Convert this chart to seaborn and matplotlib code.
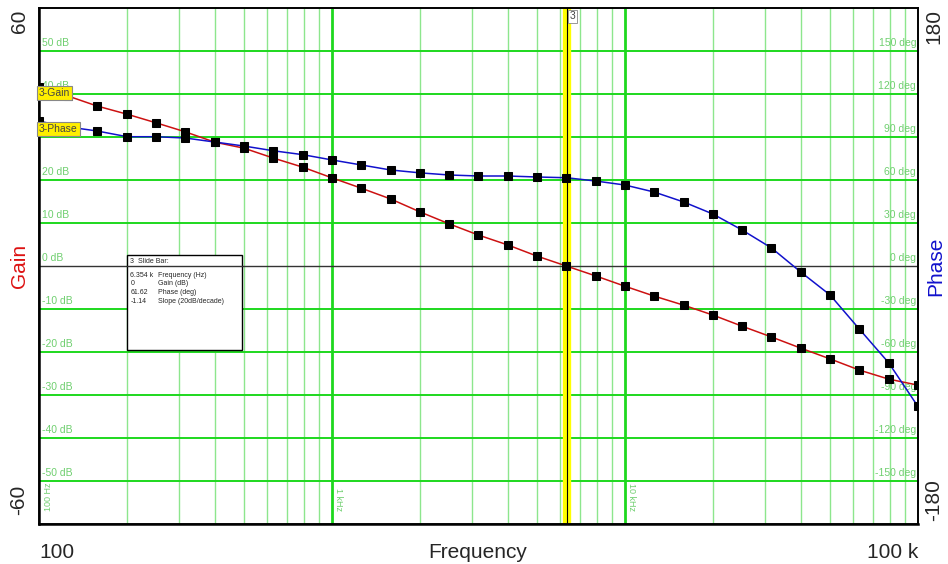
import numpy as np
import pandas as pd
import matplotlib.pyplot as plt
from matplotlib.patches import Rectangle
import seaborn as sns

# frequency points (Hz), 10 per decade
freq = [100, 126, 158, 200, 251, 316, 398, 501, 631, 794,
        1000, 1259, 1585, 1995, 2512, 3162, 3981, 5012, 6310, 7943,
        10000, 12589, 15849, 19953, 25119, 31623, 39811, 50119, 63096, 79433, 100000]
gain_db = [41.6, 39.5, 37.2, 35.3, 33.3, 31.2, 28.8, 27.4, 25.1, 23.0,
           20.5, 18.1, 15.6, 12.6, 9.8, 7.2, 4.9, 2.3, 0.0, -2.3,
           -4.7, -7.0, -9.1, -11.4, -14.0, -16.5, -19.1, -21.6, -24.2, -26.3, -27.7]
phase_deg = [101, 97, 94.2, 90.2, 90.2, 89.3, 86.5, 83.7, 80.4, 77.7,
             74.0, 70.5, 67.0, 65.0, 63.5, 62.8, 62.8, 62.1, 61.6, 59.3,
             56.5, 51.6, 44.7, 36.3, 25.1, 12.6, -4.2, -20.2, -44.0, -67.5, -98.0]

gain_grid = [-50, -40, -30, -20, -10, 10, 20, 30, 40, 50]
# left-side dB labels that are not hidden behind the series tags
gain_labels = [-50, -40, -30, -20, -10, 0, 10, 20, 40, 50]
phase_labels = [-150, -120, -90, -60, -30, 0, 30, 60, 90, 120, 150]
minor_freqs = [200, 300, 400, 500, 600, 700, 800, 900,
               2000, 3000, 4000, 5000, 6000, 7000, 8000, 9000,
               20000, 30000, 40000, 50000, 60000, 70000, 80000, 90000]
decade_freqs = [1000, 10000]
decade_labels = ['1 kHz', '10 kHz']

slide_freq = 6354
slide_rows = [('6.354 k', 'Frequency (Hz)'), ('0', 'Gain (dB)'),
              ('61.62', 'Phase (deg)'), ('-1.14', 'Slope (20dB/decade)')]

df = pd.DataFrame({'freq': freq, 'gain': gain_db, 'phase': phase_deg})

sns.set_style('white')
plt.rcParams['font.family'] = ['Liberation Sans', 'DejaVu Sans']

fig = plt.figure(figsize=(9.48, 5.64), dpi=100)
ax = fig.add_axes([0.0411, 0.0709, 0.9272, 0.9149])
ax.set_xscale('log')
ax.set_xlim(100, 100000)
ax.set_ylim(-60, 60)

green = '#1ed81e'
light_green = '#8de68d'
label_green = '#6fcf6f'

# grid
for f in minor_freqs:
    ax.axvline(f, color=light_green, lw=1.0, zorder=1)
for f in decade_freqs:
    ax.axvline(f, color=green, lw=2.0, zorder=1)
for g in gain_grid:
    ax.axhline(g, color=green, lw=1.4, zorder=1)
ax.axhline(0, color='#333333', lw=1.0, zorder=1.5)

# grid labels
for g in gain_labels:
    ax.text(0.004, g + 0.6, f'{g} dB', transform=ax.get_yaxis_transform(),
            color=label_green, fontsize=7.5, ha='left', va='bottom', zorder=1.6)
for p in phase_labels:
    ax.text(0.998, p / 3 + 0.6, f'{p} deg', transform=ax.get_yaxis_transform(),
            color=label_green, fontsize=7.5, ha='right', va='bottom', zorder=1.6)
ax.text(104, -57, '100 Hz', rotation=90, color=label_green, fontsize=6.5,
        ha='left', va='bottom', zorder=1.6)
for f, lab in zip(decade_freqs, decade_labels):
    ax.text(f * 1.015, -57, lab, rotation=270, color=label_green, fontsize=6.5,
            ha='left', va='bottom', zorder=1.6)

# slide bar
ax.axvline(slide_freq, color='#ffff00', lw=6, zorder=2)
ax.axvline(slide_freq, color='black', lw=0.8, zorder=2.1)
ax.text(slide_freq * 1.02, 59.2, '3', fontsize=7.5, color='#444444', ha='left', va='top',
        bbox=dict(boxstyle='square,pad=0.15', fc='white', ec='#888888', lw=0.6), zorder=6)

# slide bar info box
ax.add_patch(Rectangle((0.1001, 0.3372), 0.1308, 0.184, transform=ax.transAxes,
                       fc='white', ec='black', lw=1.0, zorder=3))
ax.plot([0.1001, 0.2309], [0.5, 0.5], transform=ax.transAxes, color='#333333', lw=1.0, zorder=3.1)
ax.text(0.104, 0.509, '3  Slide Bar:', transform=ax.transAxes, fontsize=5,
        ha='left', va='center', zorder=3.2)
for i, (val, name) in enumerate(slide_rows):
    yy = 0.4825 - i * 0.0172
    ax.text(0.104, yy, val, transform=ax.transAxes, fontsize=5, ha='left', va='center', zorder=3.2)
    ax.text(0.1355, yy, name, transform=ax.transAxes, fontsize=5, ha='left', va='center', zorder=3.2)

# gain curve
sns.lineplot(data=df, x='freq', y='gain', ax=ax, color='#cc1111', lw=1.1,
             marker='s', markersize=6, markerfacecolor='black', markeredgecolor='black', zorder=4)

# phase curve on twin axis
ax2 = ax.twinx()
ax2.set_ylim(-180, 180)
sns.lineplot(data=df, x='freq', y='phase', ax=ax2, color='#1111cc', lw=1.1,
             marker='s', markersize=6, markerfacecolor='black', markeredgecolor='black', zorder=4)
ax2.set_xscale('log')
ax2.set_xlim(100, 100000)

for a in (ax, ax2):
    a.set_xticks([])
    a.set_yticks([])
    a.set_xlabel('')
    a.set_ylabel('')
    a.minorticks_off()
    for s in a.spines.values():
        s.set_color('black')
        s.set_linewidth(1.2)
ax.spines['left'].set_linewidth(1.8)
ax.spines['bottom'].set_linewidth(1.8)

# series tags
ax2.text(0.0, 0.835, '3-Gain', transform=ax.transAxes, fontsize=7.5, color='#444444',
         ha='left', va='center',
         bbox=dict(boxstyle='square,pad=0.2', fc='#ffee00', ec='#888888', lw=0.8), zorder=7)
ax2.text(0.0, 0.7655, '3-Phase', transform=ax.transAxes, fontsize=7.5, color='#444444',
         ha='left', va='center',
         bbox=dict(boxstyle='square,pad=0.2', fc='#ffee00', ec='#888888', lw=0.8), zorder=7)

# outer labels
fs = 15
fig.text(19 / 948, 1 - 21 / 564, '60', rotation=90, fontsize=fs, ha='center', va='center')
fig.text(19 / 948, 1 - 500 / 564, '-60', rotation=90, fontsize=fs, ha='center', va='center')
fig.text(19 / 948, 1 - 266 / 564, 'Gain', rotation=90, fontsize=fs, color='#dd1111',
         ha='center', va='center')
fig.text(934 / 948, 1 - 27 / 564, '180', rotation=90, fontsize=fs, ha='center', va='center')
fig.text(934 / 948, 1 - 500 / 564, '-180', rotation=90, fontsize=fs, ha='center', va='center')
fig.text(936 / 948, 1 - 266 / 564, 'Phase', rotation=90, fontsize=fs, color='#1111cc',
         ha='center', va='center')
fig.text(39 / 948, 1 - 552 / 564, '100', fontsize=fs, ha='left', va='center')
fig.text(478 / 948, 1 - 552 / 564, 'Frequency', fontsize=fs, ha='center', va='center')
fig.text(918 / 948, 1 - 552 / 564, '100 k', fontsize=fs, ha='right', va='center')

fig.savefig('out.png', dpi=100)
